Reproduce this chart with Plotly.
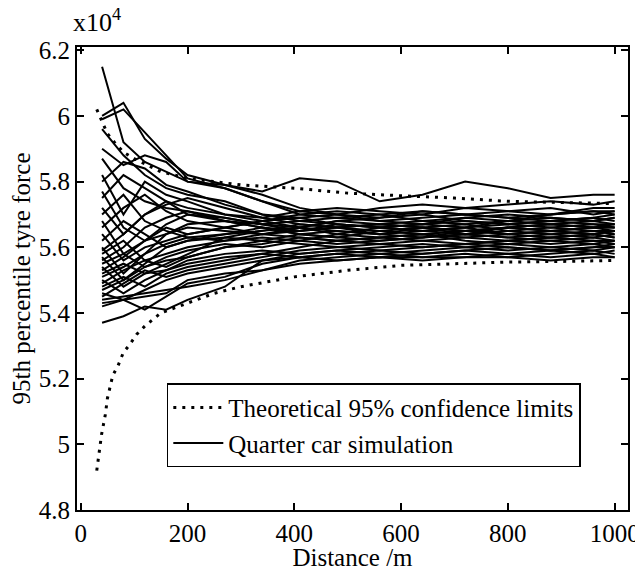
import plotly.graph_objects as go

# Distance points of the quarter-car simulation runs (m)
sim_x = [40, 80, 120, 160, 200, 270, 340, 410, 480, 560, 640, 720, 800, 880, 960, 1000]

# 95th percentile tyre force (x10^4 N) for each simulation run
sim_runs = [
    [6.15, 5.92, 5.86, 5.83, 5.80, 5.78, 5.74, 5.70, 5.69, 5.70, 5.71, 5.70, 5.69, 5.70, 5.71, 5.71],
    [6.00, 6.04, 5.93, 5.87, 5.82, 5.79, 5.76, 5.72, 5.70, 5.68, 5.69, 5.70, 5.69, 5.68, 5.69, 5.70],
    [5.99, 6.02, 5.95, 5.88, 5.81, 5.78, 5.74, 5.71, 5.72, 5.71, 5.70, 5.72, 5.71, 5.70, 5.72, 5.72],
    [5.96, 5.88, 5.82, 5.78, 5.76, 5.74, 5.70, 5.68, 5.67, 5.66, 5.67, 5.68, 5.67, 5.66, 5.67, 5.67],
    [5.90, 5.85, 5.88, 5.86, 5.80, 5.79, 5.77, 5.81, 5.80, 5.74, 5.76, 5.80, 5.78, 5.75, 5.76, 5.76],
    [5.87, 5.78, 5.74, 5.72, 5.71, 5.68, 5.66, 5.65, 5.66, 5.67, 5.66, 5.65, 5.66, 5.65, 5.66, 5.66],
    [5.82, 5.70, 5.80, 5.76, 5.74, 5.70, 5.68, 5.66, 5.65, 5.64, 5.65, 5.66, 5.64, 5.65, 5.64, 5.65],
    [5.80, 5.86, 5.84, 5.79, 5.77, 5.73, 5.70, 5.69, 5.70, 5.72, 5.73, 5.72, 5.73, 5.74, 5.73, 5.74],
    [5.77, 5.66, 5.62, 5.64, 5.66, 5.65, 5.64, 5.63, 5.62, 5.63, 5.62, 5.61, 5.62, 5.63, 5.62, 5.62],
    [5.75, 5.82, 5.78, 5.74, 5.70, 5.68, 5.67, 5.68, 5.69, 5.68, 5.67, 5.69, 5.70, 5.69, 5.68, 5.69],
    [5.72, 5.64, 5.70, 5.73, 5.75, 5.72, 5.69, 5.67, 5.66, 5.65, 5.64, 5.65, 5.66, 5.67, 5.66, 5.66],
    [5.70, 5.76, 5.68, 5.65, 5.63, 5.64, 5.65, 5.66, 5.64, 5.63, 5.64, 5.63, 5.62, 5.63, 5.64, 5.63],
    [5.68, 5.58, 5.62, 5.67, 5.70, 5.69, 5.67, 5.66, 5.68, 5.69, 5.70, 5.68, 5.67, 5.68, 5.69, 5.68],
    [5.66, 5.72, 5.76, 5.71, 5.68, 5.66, 5.64, 5.65, 5.67, 5.66, 5.65, 5.64, 5.65, 5.66, 5.65, 5.65],
    [5.64, 5.56, 5.60, 5.62, 5.64, 5.66, 5.68, 5.70, 5.71, 5.70, 5.68, 5.67, 5.68, 5.70, 5.71, 5.70],
    [5.62, 5.68, 5.64, 5.60, 5.62, 5.63, 5.62, 5.64, 5.65, 5.64, 5.66, 5.67, 5.65, 5.64, 5.63, 5.64],
    [5.60, 5.52, 5.58, 5.64, 5.67, 5.68, 5.66, 5.64, 5.63, 5.65, 5.66, 5.64, 5.63, 5.64, 5.65, 5.64],
    [5.59, 5.64, 5.70, 5.74, 5.72, 5.70, 5.69, 5.71, 5.70, 5.69, 5.71, 5.70, 5.71, 5.72, 5.70, 5.71],
    [5.58, 5.62, 5.56, 5.58, 5.60, 5.62, 5.63, 5.62, 5.61, 5.62, 5.63, 5.64, 5.63, 5.62, 5.61, 5.62],
    [5.57, 5.50, 5.54, 5.57, 5.59, 5.61, 5.60, 5.62, 5.64, 5.66, 5.65, 5.66, 5.68, 5.67, 5.66, 5.67],
    [5.56, 5.60, 5.66, 5.69, 5.71, 5.69, 5.67, 5.65, 5.66, 5.67, 5.68, 5.69, 5.68, 5.69, 5.68, 5.69],
    [5.55, 5.58, 5.54, 5.56, 5.57, 5.60, 5.62, 5.61, 5.60, 5.59, 5.60, 5.61, 5.60, 5.59, 5.60, 5.61],
    [5.54, 5.48, 5.52, 5.55, 5.58, 5.63, 5.65, 5.67, 5.66, 5.64, 5.63, 5.65, 5.66, 5.67, 5.68, 5.67],
    [5.53, 5.57, 5.62, 5.66, 5.64, 5.66, 5.68, 5.69, 5.67, 5.66, 5.67, 5.66, 5.67, 5.68, 5.67, 5.66],
    [5.52, 5.55, 5.52, 5.53, 5.56, 5.58, 5.59, 5.58, 5.59, 5.60, 5.61, 5.60, 5.59, 5.60, 5.61, 5.60],
    [5.51, 5.54, 5.58, 5.61, 5.63, 5.62, 5.64, 5.66, 5.68, 5.67, 5.66, 5.65, 5.64, 5.65, 5.66, 5.65],
    [5.50, 5.46, 5.50, 5.53, 5.55, 5.57, 5.58, 5.57, 5.58, 5.59, 5.58, 5.59, 5.60, 5.59, 5.60, 5.60],
    [5.49, 5.53, 5.56, 5.54, 5.57, 5.60, 5.61, 5.63, 5.62, 5.61, 5.62, 5.63, 5.64, 5.63, 5.64, 5.63],
    [5.48, 5.51, 5.48, 5.52, 5.54, 5.56, 5.58, 5.60, 5.62, 5.63, 5.64, 5.62, 5.61, 5.62, 5.63, 5.62],
    [5.47, 5.50, 5.55, 5.60, 5.62, 5.64, 5.66, 5.64, 5.63, 5.62, 5.63, 5.64, 5.66, 5.65, 5.64, 5.65],
    [5.46, 5.44, 5.47, 5.50, 5.52, 5.54, 5.56, 5.58, 5.59, 5.58, 5.57, 5.58, 5.57, 5.58, 5.59, 5.58],
    [5.45, 5.49, 5.53, 5.51, 5.53, 5.55, 5.57, 5.59, 5.60, 5.61, 5.60, 5.61, 5.62, 5.61, 5.62, 5.61],
    [5.44, 5.45, 5.46, 5.47, 5.48, 5.50, 5.53, 5.56, 5.57, 5.58, 5.59, 5.60, 5.61, 5.60, 5.59, 5.60],
    [5.43, 5.44, 5.45, 5.46, 5.50, 5.52, 5.53, 5.55, 5.56, 5.57, 5.56, 5.57, 5.58, 5.57, 5.58, 5.57],
    [5.42, 5.44, 5.41, 5.45, 5.49, 5.51, 5.55, 5.57, 5.58, 5.57, 5.58, 5.59, 5.58, 5.59, 5.58, 5.59],
    [5.37, 5.39, 5.42, 5.41, 5.44, 5.48, 5.56, 5.57, 5.56, 5.57, 5.57, 5.57, 5.57, 5.56, 5.57, 5.57],
]

# Theoretical 95% confidence limits
upper_x = [30, 40, 50, 63, 80, 100, 150, 200, 300, 400, 500, 600, 700, 800, 900, 1000]
upper_y = [6.02, 5.98, 5.946, 5.92, 5.89, 5.87, 5.83, 5.81, 5.79, 5.78, 5.765, 5.757, 5.75, 5.74, 5.737, 5.733]
lower_x = [30, 33, 36, 39, 46, 50, 60, 70, 80, 90, 105, 120, 135, 150, 200, 250, 300, 400, 500, 600, 700, 800, 900, 1000]
lower_y = [4.92, 4.96, 4.99, 5.03, 5.09, 5.14, 5.21, 5.24, 5.28, 5.30, 5.335, 5.36, 5.38, 5.40, 5.43, 5.46, 5.48, 5.51, 5.53, 5.545, 5.55, 5.555, 5.557, 5.56]

x_ticks = [0, 200, 400, 600, 800, 1000]
y_ticks = [4.8, 5.0, 5.2, 5.4, 5.6, 5.8, 6.0, 6.2]
y_tick_text = ["4.8", "5", "5.2", "5.4", "5.6", "5.8", "6", "6.2"]

FONT = "Liberation Serif"

fig = go.Figure()

for i, run in enumerate(sim_runs):
    fig.add_trace(go.Scatter(
        x=sim_x, y=run, mode="lines",
        line=dict(color="black", width=2),
        name="Quarter car simulation",
        showlegend=(i == 0), legendrank=2, hoverinfo="skip",
    ))

dot_style = dict(color="black", width=3, dash="3px,6px")
fig.add_trace(go.Scatter(
    x=upper_x, y=upper_y, mode="lines", line=dot_style,
    name="Theoretical 95% confidence limits", showlegend=True, legendrank=1,
))
fig.add_trace(go.Scatter(
    x=lower_x, y=lower_y, mode="lines", line=dot_style,
    name="Theoretical 95% confidence limits", showlegend=False,
))

axis_common = dict(
    showline=True, linecolor="black", linewidth=2, mirror="ticks",
    ticks="inside", ticklen=7, tickwidth=1.5, tickcolor="black",
    showgrid=False, zeroline=False, automargin=False,
    tickfont=dict(family=FONT, size=25, color="black"),
    ticklabeloverflow="allow",
)

fig.update_xaxes(
    range=[-7, 1025], tickvals=x_ticks,
    title=dict(text="Distance /m", font=dict(family=FONT, size=25, color="black"), standoff=2),
    **axis_common,
)
fig.update_yaxes(
    range=[4.8, 6.21], tickvals=y_ticks, ticktext=y_tick_text,
    title=dict(text="95th percentile tyre force", font=dict(family=FONT, size=25, color="black"), standoff=6),
    **axis_common,
)

fig.add_annotation(
    text="x10<sup>4</sup>", xref="paper", yref="paper", x=0, y=1,
    xanchor="left", yanchor="bottom", xshift=-6, yshift=8, showarrow=False,
    font=dict(family=FONT, size=26, color="black"),
)

# The page body adds an 8px offset, so the figure is sized to fit the window.
fig.update_layout(
    width=635, height=563,
    margin=dict(l=69, r=15, t=39, b=61),
    paper_bgcolor="white", plot_bgcolor="white",
    font=dict(family=FONT, size=25, color="black"),
    legend=dict(
        x=0.163, y=0.274, xanchor="left", yanchor="top",
        bordercolor="black", borderwidth=1.5, bgcolor="white",
        font=dict(family=FONT, size=25, color="black"),
        tracegroupgap=0, itemwidth=50,
    ),
    showlegend=True,
)

fig.write_html("out.html")
